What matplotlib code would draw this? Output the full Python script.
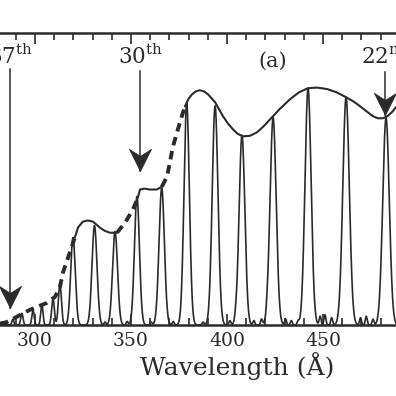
import numpy as np
import matplotlib
matplotlib.use("Agg")
import matplotlib.pyplot as plt
from matplotlib.path import Path
from matplotlib.ticker import MultipleLocator

plt.rcParams['font.family'] = ['DejaVu Serif']
plt.rcParams['mathtext.fontset'] = 'dejavuserif'

# ── Data ───────────────────────────────────────────
# harmonic peaks: centre (Å), height (arb.), gaussian sigma (Å)
peak_wl = [288.5, 293.2, 299.0, 303.6, 309.4, 313.0, 319.8, 331.0, 341.7,
           353.1, 366.0, 379.0, 393.8, 407.8, 424.0, 442.2, 462.0, 482.8]
peak_h = [0.02, 0.04, 0.05, 0.07, 0.09, 0.14, 0.30, 0.34, 0.32,
          0.44, 0.47, 0.76, 0.75, 0.65, 0.71, 0.81, 0.78, 0.71]
peak_sig = [0.5, 0.6, 0.6, 0.6, 0.7, 0.8, 1.2, 1.3, 1.3,
            1.3, 1.4, 1.4, 1.5, 1.5, 1.6, 1.6, 1.7, 1.7]

# little bumps on the baseline
bump_wl = [336.5, 348.0, 360.5, 372.0, 387.5, 401.5, 404.5, 414.0, 418.0,
           421.0, 430.5, 433.5, 437.0, 448.5, 451.0, 454.5, 469.5, 472.5, 476.0]
bump_h = [0.010, 0.012, 0.010, 0.012, 0.010, 0.015, 0.012, 0.015, 0.020,
          0.012, 0.020, 0.015, 0.012, 0.030, 0.035, 0.025, 0.025, 0.030, 0.020]

# envelope, solid and dashed pieces
env_dash = [
    ([281.8, 285.4, 292.2, 297.4, 306.3, 310.4, 313.0, 314.6, 316.7, 318.2, 320.8],
     [0.005, 0.010, 0.034, 0.052, 0.076, 0.096, 0.130, 0.180, 0.220, 0.250, 0.300]),
    ([342.7, 346.9, 351.0, 353.6],
     [0.316, 0.350, 0.395, 0.436]),
    ([366.1, 368.8, 371.9, 375.5, 378.1],
     [0.474, 0.509, 0.612, 0.694, 0.749]),
]
env_solid = [
    ([320.8, 322.5, 325.0, 327.5, 330.2, 333.9, 336.5, 339.1, 342.7],
     [0.300, 0.335, 0.354, 0.358, 0.354, 0.333, 0.322, 0.316, 0.316]),
    ([353.6, 354.7, 357.0, 359.9, 363.5, 366.1],
     [0.436, 0.464, 0.467, 0.464, 0.464, 0.474]),
    ([378.1, 380.0, 381.8, 383.8, 385.9, 388.0, 390.1, 393.8, 397.9, 400.5, 403.1,
      405.5, 408.3, 412.0, 415.6, 419.0, 422.4, 427.5, 432.8, 437.5, 442.2, 447.0,
      452.1, 457.0, 462.0, 466.0, 469.3, 473.0, 476.0, 478.5, 481.2, 483.5, 485.9, 488.0],
     [0.749, 0.775, 0.790, 0.800, 0.804, 0.800, 0.790, 0.763, 0.715, 0.690, 0.670,
      0.655, 0.646, 0.648, 0.660, 0.680, 0.704, 0.740, 0.773, 0.797, 0.811, 0.813,
      0.808, 0.797, 0.780, 0.765, 0.749, 0.730, 0.715, 0.708, 0.708, 0.715, 0.729, 0.746]),
]

arrow_labels = ['37', '30', '22']
arrow_sup = ['th', 'th', 'nd']
arrow_wl = [287.0, 354.7, 482.3]
arrow_top = [0.876, 0.870, 0.866]
arrow_tip = [0.058, 0.526, 0.720]

xmin, xmax = 281.8, 488.0
ink = '#2b2b2b'

# notched arrow head, tip at the origin
head = Path([(0, 0), (-0.5, 1.0), (0, 0.68), (0.5, 1.0), (0, 0)],
            [Path.MOVETO, Path.LINETO, Path.LINETO, Path.LINETO, Path.CLOSEPOLY])

# ── Spectrum ─────────────────────────────────────
wl = np.linspace(xmin, xmax, 4000)
spec = np.zeros_like(wl)
for c, h, s in zip(peak_wl, peak_h, peak_sig):
    spec += h * np.exp(-0.5 * ((wl - c) / s) ** 2)
for c, h in zip(bump_wl, bump_h):
    spec += h * np.exp(-0.5 * ((wl - c) / 0.5) ** 2)

fig = plt.figure(figsize=(3.96, 3.96), dpi=100)
ax = fig.add_axes([0.0, 0.1793, 1.0, 0.7374])

ax.plot(wl, spec, color=ink, lw=1.2)
for x, y in env_solid:
    ax.plot(x, y, color=ink, lw=1.5, solid_capstyle='round')
for x, y in env_dash:
    ax.plot(x, y, color=ink, lw=2.8, dashes=(2.2, 1.5))

for lab, sup, x, top, tip in zip(arrow_labels, arrow_sup, arrow_wl, arrow_top, arrow_tip):
    ax.plot([x, x], [top, tip], color=ink, lw=1.1)
    ax.plot([x], [tip], marker=head, markersize=32, color=ink, mec=ink, mew=0.5)
    ax.text(x, 0.893, lab + r'$^{\rm ' + sup + '}$', ha='center', va='baseline',
            fontsize=15.5, color=ink)

ax.text(424.0, 0.885, '(a)', ha='center', va='baseline', fontsize=15, color=ink)

ax.set_xlim(xmin, xmax)
ax.set_ylim(0, 1.0)
ax.set_yticks([])
ax.xaxis.set_major_locator(MultipleLocator(50))
ax.xaxis.set_minor_locator(MultipleLocator(10))
ax.tick_params(axis='x', which='both', direction='in', top=True, bottom=True,
               colors=ink, labelsize=13.5, pad=5, width=1.2)
ax.tick_params(axis='x', which='major', length=8)
ax.tick_params(axis='x', which='minor', length=5)
for side in ['left', 'right']:
    ax.spines[side].set_visible(False)
for side in ['top', 'bottom']:
    ax.spines[side].set_linewidth(1.8)
    ax.spines[side].set_color(ink)
ax.set_xlabel('Wavelength (Å)', fontsize=18, color=ink)
ax.xaxis.set_label_coords(0.60, -0.092)

fig.savefig('out.png', dpi=100)
